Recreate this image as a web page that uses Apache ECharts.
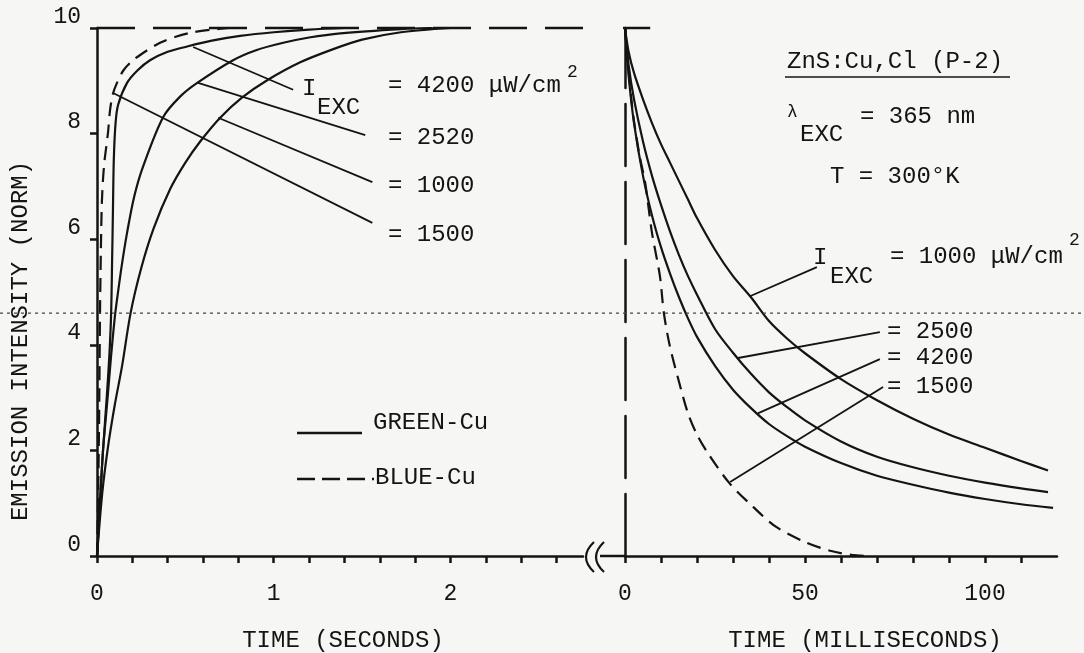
<!DOCTYPE html>
<html>
<head>
<meta charset="utf-8">
<script src="https://cdn.jsdelivr.net/npm/echarts@6/dist/echarts.min.js"></script>
<style>
html, body { margin: 0; padding: 0; background: #f6f6f4; }
#chart { width: 1084px; height: 653px; }
</style>
</head>
<body>
<div id="chart"></div>
<script>
// rise curves, x in seconds, y normalised emission
var rise4200 = [[0,0],[0.02,1.2],[0.034,2.0],[0.055,3.0],[0.07,3.8],[0.08,4.6],[0.085,5.5],[0.09,6.5],[0.095,7.5],[0.105,8.2],[0.12,8.55],[0.17,8.96],[0.23,9.2],[0.3,9.39],[0.4,9.55],[0.51,9.65],[0.65,9.76],[0.81,9.85],[1.0,9.92],[1.2,9.97],[1.4,10]];
var rise2520 = [[0,0],[0.02,1.2],[0.034,2.0],[0.06,3.0],[0.08,3.8],[0.1,4.5],[0.113,4.85],[0.14,5.5],[0.17,6.12],[0.21,6.8],[0.26,7.37],[0.374,8.31],[0.47,8.7],[0.567,8.96],[0.77,9.39],[0.9,9.58],[1.054,9.72],[1.2,9.82],[1.377,9.9],[1.72,9.98],[1.9,10]];
var rise1000 = [[0,0],[0.03,1.2],[0.062,2.06],[0.1,2.85],[0.142,3.6],[0.19,4.6],[0.25,5.45],[0.32,6.2],[0.414,6.95],[0.5,7.45],[0.584,7.85],[0.697,8.3],[0.82,8.68],[0.963,9.01],[1.15,9.35],[1.337,9.6],[1.5,9.78],[1.72,9.92],[2.0,10]];
var riseBlue = [[0,0],[0.008,1.5],[0.013,3.0],[0.017,4.6],[0.022,5.8],[0.028,6.74],[0.04,7.4],[0.062,8.01],[0.074,8.45],[0.09,8.75],[0.113,8.96],[0.15,9.2],[0.204,9.39],[0.28,9.57],[0.357,9.72],[0.45,9.84],[0.544,9.92],[0.65,9.97],[0.75,10]];

// decay curves, x in milliseconds
var decay1000 = [[0,10],[1,9.55],[2.5,9.15],[5,8.65],[7.5,8.2],[10,7.8],[12.5,7.45],[15,7.1],[17.5,6.75],[20,6.4],[25,5.8],[30,5.3],[35,4.9],[40,4.45],[45,4.12],[50,3.84],[60,3.35],[70,2.95],[80,2.6],[90,2.3],[100,2.05],[110,1.8],[117.5,1.62]];
var decay2500 = [[0,10],[1,9.3],[2.5,8.65],[5,7.85],[7.5,7.2],[10,6.65],[12.5,6.15],[15,5.7],[17.5,5.3],[20,4.95],[25,4.3],[30,3.85],[35,3.45],[40,3.1],[45,2.82],[50,2.57],[60,2.17],[70,1.88],[80,1.68],[90,1.52],[100,1.39],[110,1.28],[117.5,1.21]];
var decay4200 = [[0,10],[1,9.1],[2.5,8.2],[5,7.2],[7.5,6.45],[10,5.85],[12.5,5.35],[15,4.9],[17.5,4.5],[20,4.15],[25,3.6],[30,3.15],[35,2.8],[40,2.5],[45,2.27],[50,2.07],[60,1.76],[70,1.52],[80,1.35],[90,1.2],[100,1.08],[110,0.98],[118.9,0.91]];
var decayBlue = [[0,10],[2,8.5],[4,7.6],[5.6,7.07],[7.5,6.12],[9.7,5.3],[10.8,4.6],[12.5,3.96],[15,3.3],[17.5,2.7],[20,2.3],[23,1.95],[29,1.38],[35.6,0.93],[42,0.55],[50.5,0.25],[57,0.1],[63,0.02],[68,0]];

// label leader lines (data units of each panel)
var leadSec = [
  [[0.544,9.64],[1.11,8.83]],
  [[0.572,8.96],[1.518,7.97]],
  [[0.686,8.30],[1.558,7.08]],
  [[0.091,8.77],[1.558,6.31]]
];
var leadMs = [
  [[34.7,4.92],[53.3,5.47]],
  [[31.4,3.75],[70.8,4.24]],
  [[36.9,2.70],[70.8,3.73]],
  [[29.2,1.40],[71.7,3.20]]
];

var topLineSec = [[0,10],[2.95,10]];
var topStubMs = [[-2.8,10],[7,10]];
var foldLine = [[0,4.6],[1,4.6]];

var secTicks = [0,0.2,0.4,0.6,0.8,1,1.2,1.4,1.6,1.8,2,2.2,2.4,2.6];
var secLabels = [0,1,2];
var msTicks = [0,10,20,30,40,50,60,70,80,90,100,110];
var msLabels = [0,50,100];
var yTicks = [0,2,4,6,8,10];

var FONT = 'Liberation Mono';
var INK = '#141414';

var chart = echarts.init(document.getElementById('chart'));

function curve(data, xi, dashed) {
  return {
    type: 'line', xAxisIndex: xi, yAxisIndex: xi, data: data,
    showSymbol: false, smooth: 0.3, silent: true,
    lineStyle: { color: INK, width: 2.2, type: dashed ? [14, 8] : 'solid' }
  };
}
function seg(data, xi, w, type) {
  return {
    type: 'line', xAxisIndex: xi, yAxisIndex: xi, data: data,
    showSymbol: false, silent: true, clip: false,
    lineStyle: { color: INK, width: w || 1.8, type: type || 'solid' }
  };
}

var series = [
  curve(rise4200, 0), curve(rise2520, 0), curve(rise1000, 0), curve(riseBlue, 0, true),
  curve(decay1000, 1), curve(decay2500, 1), curve(decay4200, 1), curve(decayBlue, 1, true),
  seg(topLineSec, 0, 2.4, [38, 18]),
  seg(topStubMs, 1, 2.4),
  {
    type: 'line', xAxisIndex: 2, yAxisIndex: 2, data: foldLine, showSymbol: false, silent: true,
    lineStyle: { color: '#444', width: 1.2, type: [3, 4] }
  }
];
leadSec.forEach(function (d) { series.push(seg(d, 0)); });
leadMs.forEach(function (d) { series.push(seg(d, 1)); });

function txt(s, x, y, size, align) {
  return {
    type: 'text', x: x, y: y, silent: true,
    style: { text: s, font: (size || 24) + 'px "' + FONT + '"', fill: INK, align: align || 'left', verticalAlign: 'middle' }
  };
}

var graphic = [
  txt('I', 302, 89), txt('EXC', 317, 108), txt('= 4200 \u03bcW/cm', 388, 86), txt('2', 567, 72, 18),
  txt('= 2520', 388, 138), txt('= 1000', 388, 186), txt('= 1500', 388, 235),
  txt('ZnS:Cu,Cl (P-2)', 787, 62),
  { type: 'line', silent: true, shape: { x1: 785, y1: 77, x2: 1010, y2: 77 }, style: { stroke: INK, lineWidth: 1.5 } },
  txt('\u03bb', 787, 112, 18), txt('EXC', 800, 135), txt('= 365 nm', 860, 117),
  txt('T = 300\u00b0K', 830, 177),
  txt('I', 813, 258), txt('EXC', 830, 277), txt('= 1000 \u03bcW/cm', 890, 257), txt('2', 1069, 240, 18),
  txt('= 2500', 887, 332), txt('= 4200', 887, 358), txt('= 1500', 887, 387),
  txt('TIME (SECONDS)', 343, 641, 24, 'center'),
  txt('TIME (MILLISECONDS)', 865, 641, 24, 'center'),
  {
    type: 'text', x: 21, y: 341, rotation: Math.PI / 2, silent: true,
    style: { text: 'EMISSION INTENSITY (NORM)', font: '24px "' + FONT + '"', fill: INK, align: 'center', verticalAlign: 'middle' }
  },
  // legend
  { type: 'line', silent: true, shape: { x1: 297, y1: 433, x2: 362, y2: 433 }, style: { stroke: INK, lineWidth: 2.5 } },
  txt('GREEN-Cu', 373, 423),
  { type: 'line', silent: true, shape: { x1: 297, y1: 479, x2: 374, y2: 479 }, style: { stroke: INK, lineWidth: 2.5, lineDash: [18, 7] } },
  txt('BLUE-Cu', 375, 478),
  // axis break
  { type: 'line', silent: true, shape: { x1: 600, y1: 556, x2: 626, y2: 556 }, style: { stroke: INK, lineWidth: 2.5 } },
  { type: 'bezierCurve', silent: true, shape: { x1: 594, y1: 542, cpx1: 578, cpy1: 557, x2: 594, y2: 572 }, style: { stroke: INK, lineWidth: 2.2, fill: null } },
  { type: 'bezierCurve', silent: true, shape: { x1: 604, y1: 542, cpx1: 588, cpy1: 557, x2: 604, y2: 572 }, style: { stroke: INK, lineWidth: 2.2, fill: null } }
];

var axisLine = { show: true, lineStyle: { color: INK, width: 2.5 } };
var labelStyle = { color: INK, fontFamily: FONT, fontSize: 23 };

var option = {
  backgroundColor: '#f6f6f4',
  animation: false,
  grid: [
    { left: 97, top: 28, width: 486, height: 528 },
    { left: 625, top: 28, width: 432, height: 528 },
    { left: 0, top: 28, width: 1084, height: 528 }
  ],
  xAxis: [
    {
      type: 'value', gridIndex: 0, min: 0, max: 2.75, interval: 0.2,
      axisLine: axisLine, splitLine: { show: false },
      axisTick: { show: true, length: 7, lineStyle: { color: INK, width: 2.5 }, customValues: secTicks },
      axisLabel: Object.assign({ margin: 26, customValues: secLabels, formatter: function (v) { return Math.abs(v - Math.round(v)) < 1e-6 ? String(Math.round(v)) : ''; } }, labelStyle)
    },
    {
      type: 'value', gridIndex: 1, min: 0, max: 120, interval: 10,
      axisLine: axisLine, splitLine: { show: false },
      axisTick: { show: true, length: 7, lineStyle: { color: INK, width: 2.5 }, customValues: msTicks },
      axisLabel: Object.assign({ margin: 26, customValues: msLabels }, labelStyle)
    },
    { type: 'value', gridIndex: 2, min: 0, max: 1, show: false }
  ],
  yAxis: [
    {
      type: 'value', gridIndex: 0, min: 0, max: 10, interval: 2,
      axisLine: axisLine, splitLine: { show: false },
      axisTick: { show: true, length: 7, lineStyle: { color: INK, width: 2.5 }, customValues: yTicks },
      axisLabel: Object.assign({ margin: 16, verticalAlign: 'bottom' }, labelStyle)
    },
    {
      type: 'value', gridIndex: 1, min: 0, max: 10, interval: 2,
      axisLine: { show: true, lineStyle: { color: INK, width: 2.5, type: [62, 16] } },
      axisTick: { show: false }, axisLabel: { show: false }, splitLine: { show: false }
    },
    { type: 'value', gridIndex: 2, min: 0, max: 10, show: false }
  ],
  series: series,
  graphic: graphic
};

chart.setOption(option);
</script>
</body>
</html>
